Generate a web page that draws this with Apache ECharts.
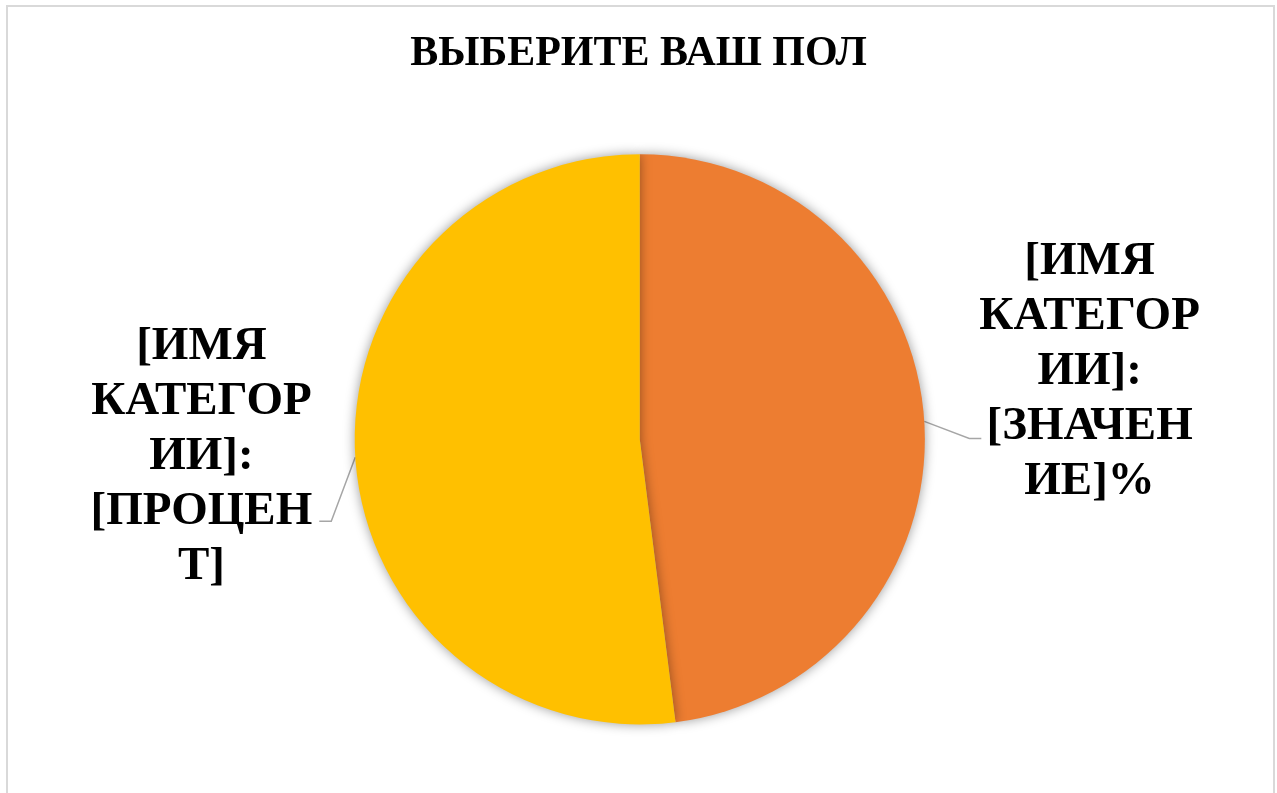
<!DOCTYPE html>
<html>
<head>
<meta charset="utf-8">
<title>Выберите ваш пол</title>
<script src="https://cdn.jsdelivr.net/npm/echarts@6/dist/echarts.min.js"></script>
<style>
  html, body { margin: 0; padding: 0; background: #fff; overflow: hidden; }
  #chart { position: absolute; left: 0; top: 0; width: 1277px; height: 793px; }
  .frame {
    position: absolute; left: 6px; top: 5px; width: 1265px; height: 820px;
    border: 2px solid #d9d9d9; pointer-events: none;
  }
</style>
</head>
<body>
<div id="chart"></div>
<div class="frame"></div>
<script>
// данные диаграммы
const titleText = 'ВЫБЕРИТЕ ВАШ ПОЛ'
const sliceValues = [48, 52]
const sliceColors = ['#ED7D31', '#FFC000']
// подписи как в исходнике (перенос по строкам)
const sliceLabels = [
  ['[ИМЯ', 'КАТЕГОР', 'ИИ]:', '[ЗНАЧЕН', 'ИЕ]%'],
  ['[ИМЯ', 'КАТЕГОР', 'ИИ]:', '[ПРОЦЕН', 'Т]']
]

const chart = echarts.init(document.getElementById('chart'))

const data = sliceValues.map((v, i) => ({
  value: v,
  name: sliceLabels[i].join(''),
  itemStyle: { color: sliceColors[i] }
}))

chart.setOption({
  animation: false,
  title: {
    text: titleText,
    left: 'center',
    top: 28,
    textStyle: {
      fontFamily: 'Liberation Serif',
      fontWeight: 'bold',
      fontSize: 42,
      color: '#000'
    }
  },
  series: [{
    type: 'pie',
    center: ['50.1%', '55.4%'],
    radius: '71.9%',
    startAngle: 90,
    clockwise: true,
    data: data,
    itemStyle: {
      borderWidth: 0,
      shadowBlur: 12,
      shadowColor: 'rgba(0, 0, 0, 0.4)'
    },
    label: {
      show: true,
      position: 'outside',
      formatter: (p) => sliceLabels[p.dataIndex].join('\n'),
      fontFamily: 'Liberation Serif',
      fontWeight: 'bold',
      fontSize: 47,
      lineHeight: 55,
      color: '#000'
    },
    labelLine: {
      show: true,
      length: 15,
      length2: 15,
      lineStyle: { color: '#a6a6a6', width: 1.5 }
    },
    labelLayout: (p) => {
      const right = p.dataIndex === 0
      const edge = p.labelLinePoints[0]
      const bend = right ? [edge[0] + 45, edge[1] + 17] : [edge[0] - 24, edge[1] + 64]
      const end = right ? [bend[0] + 12, bend[1]] : [bend[0] - 12, bend[1]]
      const w = p.labelRect.width
      return {
        x: right ? end[0] + w / 2 - 2 : end[0] - w / 2 - 7,
        y: right ? end[1] - 67 : end[1] - 64,
        align: 'center',
        verticalAlign: 'middle',
        labelLinePoints: [edge, bend, end]
      }
    }
  }]
})
</script>
</body>
</html>
